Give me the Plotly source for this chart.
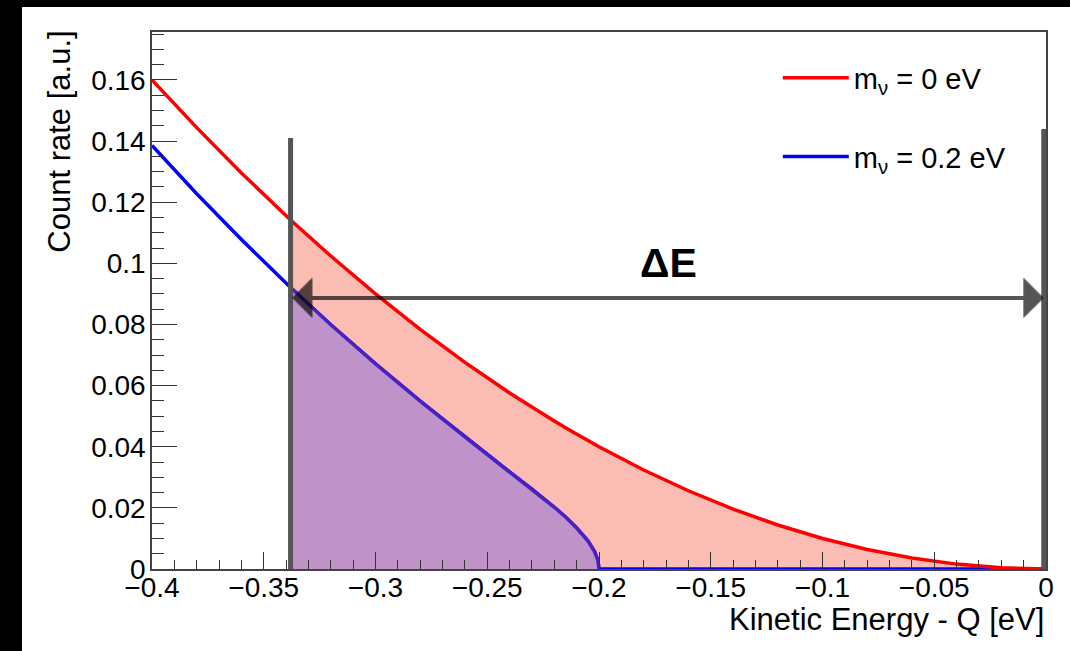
import plotly.graph_objects as go

# ---- data ----
energy = [-0.4, -0.38, -0.36, -0.34, -0.338, -0.32, -0.30, -0.28, -0.26, -0.24, -0.23,
          -0.225, -0.22, -0.215, -0.21, -0.205, -0.202, -0.2005, -0.20, -0.18, -0.16,
          -0.14, -0.12, -0.10, -0.08, -0.06, -0.04, -0.02, 0.0]
rate_m0 = [0.160, 0.1444, 0.1296, 0.1156, 0.1142, 0.1024, 0.0900, 0.0784, 0.0676, 0.0576, 0.0529,
           0.0506, 0.0484, 0.0462, 0.0441, 0.0420, 0.0408, 0.0402, 0.0400, 0.0324, 0.0256,
           0.0196, 0.0144, 0.0100, 0.0064, 0.0036, 0.0016, 0.0004, 0.0]
rate_m02 = [0.1386, 0.1228, 0.1078, 0.0935, 0.0921, 0.0799, 0.0671, 0.0549, 0.0432, 0.0318, 0.0261,
            0.0232, 0.0202, 0.0170, 0.0134, 0.0092, 0.0057, 0.0028, 0.0, 0.0, 0.0,
            0.0, 0.0, 0.0, 0.0, 0.0, 0.0, 0.0, 0.0]
labels = ["m<sub>ν</sub> = 0 eV", "m<sub>ν</sub> = 0.2 eV"]

E_CUT = -0.338      # left edge of the energy window
E_END = -0.001      # right edge of the energy window
E_MASS = -0.2       # endpoint for m = 0.2 eV
WIN_TOP_L = 0.141
WIN_TOP_R = 0.144
ARROW_Y = 0.0887
DELTA_LABEL = (-0.169, 0.100)

i_cut = energy.index(E_CUT)
i_mass = energy.index(E_MASS)

FONT = "Liberation Sans, Arial, Helvetica, sans-serif"

fig = go.Figure()

# red shaded window
fig.add_trace(go.Scatter(x=energy[i_cut:], y=rate_m0[i_cut:], mode="lines",
                         line=dict(width=0), fill="tozeroy", fillcolor="#fbbcb3",
                         showlegend=False, hoverinfo="skip"))
# blue curve
fig.add_trace(go.Scatter(x=energy, y=rate_m02, mode="lines", name=labels[1],
                         line=dict(color="#0000ff", width=3.5), legendrank=2,
                         legendgroup="b", cliponaxis=False))
# purple shaded part
fig.add_trace(go.Scatter(x=energy[i_cut:i_mass + 1], y=rate_m02[i_cut:i_mass + 1], mode="lines",
                         line=dict(width=3.5, color="#4a22c0"), fill="tozeroy",
                         fillcolor="#bf93c9", showlegend=False, hoverinfo="skip"))
# red curve
fig.add_trace(go.Scatter(x=energy, y=rate_m0, mode="lines", name=labels[0],
                         line=dict(color="#ff0000", width=3.5), legendrank=1,
                         legendgroup="a", cliponaxis=False))

gray = "rgba(0,0,0,0.67)"
fig.add_shape(type="line", x0=E_CUT, x1=E_CUT, y0=0, y1=WIN_TOP_L, xref="x", yref="y",
              line=dict(color="#555555", width=5))
fig.add_shape(type="line", x0=E_END, x1=E_END, y0=0, y1=WIN_TOP_R, xref="x", yref="y",
              line=dict(color="#555555", width=5))

fig.add_annotation(x=E_END, y=ARROW_Y, ax=E_CUT, ay=ARROW_Y, xref="x", yref="y",
                   axref="x", ayref="y", text="", showarrow=True, arrowhead=1,
                   arrowside="end+start", arrowwidth=4, arrowsize=1.7, arrowcolor=gray)
fig.add_annotation(x=DELTA_LABEL[0], y=DELTA_LABEL[1], xref="x", yref="y", text="<b>ΔE</b>",
                   showarrow=False, font=dict(family=FONT, size=41, color="black"))

# axis titles (ROOT style, aligned to axis ends)
fig.add_annotation(x=1.0, y=-0.094, xref="paper", yref="paper", xanchor="right",
                   yanchor="middle", text="Kinetic Energy - Q [eV]", showarrow=False,
                   font=dict(family=FONT, size=31, color="black"))
fig.add_annotation(x=-0.103, y=1.006, xref="paper", yref="paper", xanchor="center",
                   yanchor="top", text="Count rate [a.u.]", textangle=-90, showarrow=False,
                   font=dict(family=FONT, size=31, color="black"))

# white page on black surround
fig.add_shape(type="rect", xref="paper", yref="paper", x0=-0.1454, x1=1.1, y0=-0.2, y1=1.0466,
              fillcolor="white", line=dict(width=0), layer="below")

axis_common = dict(showgrid=False, zeroline=False, showline=True, mirror=True,
                   linecolor="#444444", linewidth=1.5, ticks="inside", tickcolor="#333333",
                   tickwidth=1.3, tickfont=dict(family=FONT, size=28, color="black"))

fig.update_xaxes(range=[-0.4, 0.0], dtick=0.05, tick0=0, ticklen=17,
                 minor=dict(dtick=0.01, ticklen=9, ticks="inside", tickcolor="#333333",
                            tickwidth=1.3),
                 ticklabelstandoff=-7, **axis_common)
fig.update_yaxes(range=[0.0, 0.1757], dtick=0.02, tick0=0, ticklen=25,
                 minor=dict(dtick=0.005, ticklen=12, ticks="inside", tickcolor="#333333",
                            tickwidth=1.3),
                 ticklabelstandoff=-1, **axis_common)

fig.update_layout(
    width=1070, height=651,
    margin=dict(l=152, r=24, t=32, b=82),
    paper_bgcolor="black", plot_bgcolor="white",
    font=dict(family=FONT, color="black"),
    legend=dict(x=0.70, y=0.962, xanchor="left", yanchor="top", bgcolor="rgba(0,0,0,0)",
                font=dict(family=FONT, size=29, color="black"), itemwidth=66,
                tracegroupgap=38),
)

fig.write_html("out.html", config={"displayModeBar": False},
               post_script="document.body.style.margin='0';"
                           "document.body.style.background='black';"
                           "document.body.style.overflow='hidden';")
